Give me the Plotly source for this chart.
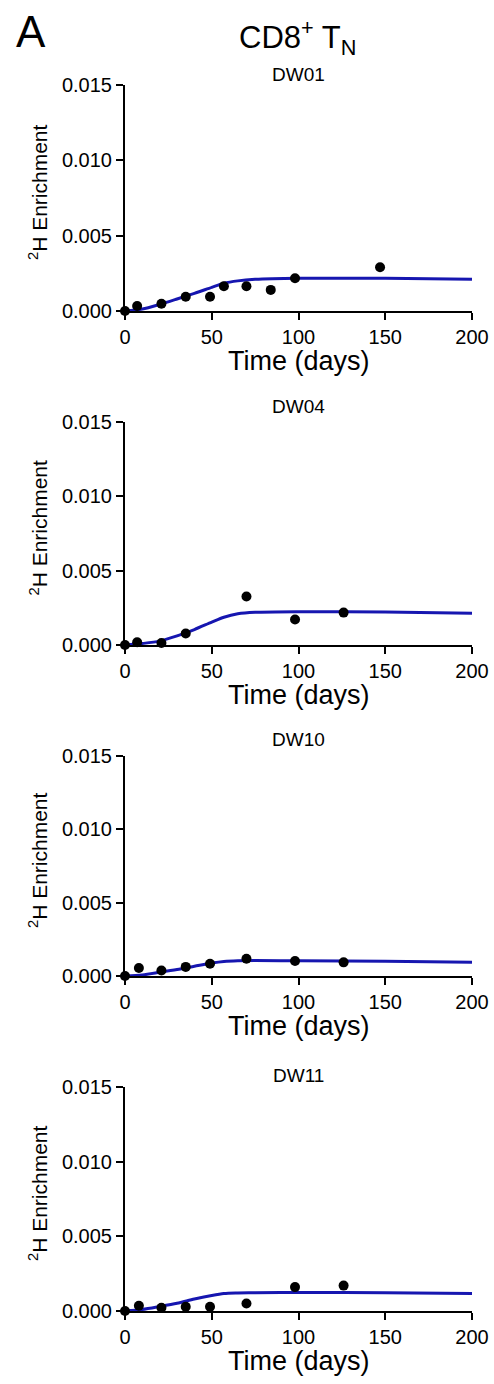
import plotly.graph_objects as go

# ---- data ----
panel_names = ["DW01", "DW04", "DW10", "DW11"]

dw01_days = [0, 7, 21, 35, 49, 57, 70, 84, 98, 147]
dw01_vals = [0.0, 0.00033, 0.00048, 0.00095, 0.00095, 0.00164, 0.00164, 0.0014, 0.00217, 0.0029]
dw04_days = [0, 7, 21, 35, 70, 98, 126]
dw04_vals = [0.0, 0.00018, 0.00013, 0.00077, 0.00326, 0.00172, 0.00218]
dw10_days = [0, 8, 21, 35, 49, 70, 98, 126]
dw10_vals = [0.0, 0.00055, 0.00038, 0.00062, 0.00084, 0.00118, 0.00102, 0.00093]
dw11_days = [0, 8, 21, 35, 49, 70, 98, 126]
dw11_vals = [0.0, 0.00035, 0.00022, 0.00028, 0.00028, 0.0005, 0.0016, 0.0017]

fit_days = [0, 10, 20, 30, 40, 50, 57, 65, 75, 100, 150, 200]
dw01_fit = [0.0, 0.00013, 0.00044, 0.0008, 0.00117, 0.00157, 0.00184, 0.0020, 0.0021, 0.00217, 0.00217, 0.0021]
dw04_fit = [0.0, 0.0001, 0.00026, 0.00061, 0.00104, 0.00154, 0.00187, 0.0021, 0.0022, 0.00224, 0.00222, 0.00213]
dw10_fit = [0.0, 0.00007, 0.00025, 0.00044, 0.00066, 0.00088, 0.00099, 0.00104, 0.00105, 0.00104, 0.001, 0.00093]
dw11_fit = [0.0, 0.0001, 0.0003, 0.00052, 0.0008, 0.00104, 0.00117, 0.00121, 0.00123, 0.00124, 0.00122, 0.00117]

x_ticks = [0, 50, 100, 150, 200]
y_ticks = [0.0, 0.005, 0.010, 0.015]

points = [(dw01_days, dw01_vals), (dw04_days, dw04_vals), (dw10_days, dw10_vals), (dw11_days, dw11_vals)]
fits = [dw01_fit, dw04_fit, dw10_fit, dw11_fit]

# ---- layout geometry (pixels) ----
W, H = 494, 1384
x0_px, x1_px = 125, 472
panels_px = [(85, 311), (422, 645), (756, 976), (1087, 1311)]  # (top, bottom)
title_y_px = [75, 407, 739, 1075]

FONT = "Liberation Sans, Arial, Helvetica, sans-serif"
BLUE = "#1616b0"

fig = go.Figure()
layout = dict(
    template="none",
    width=W, height=H, autosize=False,
    margin=dict(l=0, r=0, t=0, b=0, pad=0),
    paper_bgcolor="white", plot_bgcolor="white",
    showlegend=False,
    font=dict(family=FONT, color="black"),
)
annotations = []

for i, ((top, bot), (dx, dy), fit) in enumerate(zip(panels_px, points, fits)):
    n = "" if i == 0 else str(i + 1)
    xa = "x" + n
    ya = "y" + n
    fig.add_trace(go.Scatter(
        x=fit_days, y=fit, mode="lines", xaxis=xa, yaxis=ya,
        line=dict(color=BLUE, width=3, shape="spline", smoothing=0.8),
        cliponaxis=False, hoverinfo="skip"))
    fig.add_trace(go.Scatter(
        x=dx, y=dy, mode="markers", xaxis=xa, yaxis=ya,
        marker=dict(color="black", size=10),
        cliponaxis=False))
    axis_common = dict(
        showgrid=False, zeroline=False, showline=True, linecolor="black", linewidth=2,
        ticks="outside", ticklen=7, tickwidth=2, tickcolor="black", automargin=False,
        tickfont=dict(family=FONT, size=20, color="black"),
    )
    layout["xaxis" + n] = dict(
        axis_common, domain=[x0_px / W, x1_px / W], range=[0, 200],
        tickvals=x_ticks, anchor=ya, fixedrange=True)
    layout["yaxis" + n] = dict(
        axis_common, domain=[1 - bot / H, 1 - top / H], range=[0, 0.015],
        tickvals=y_ticks, tickformat=".3f", anchor=xa, fixedrange=True)
    # panel title
    annotations.append(dict(
        text=panel_names[i], x=298 / W, y=1 - title_y_px[i] / H, xref="paper", yref="paper",
        showarrow=False, xanchor="center", yanchor="middle",
        font=dict(family=FONT, size=19, color="black")))
    # x-axis title
    annotations.append(dict(
        text="Time (days)", x=(x0_px + x1_px) / 2 / W, y=1 - (bot + 50) / H,
        xref="paper", yref="paper", showarrow=False, xanchor="center", yanchor="middle",
        font=dict(family=FONT, size=27, color="black")))
    # y-axis title
    annotations.append(dict(
        text="<sup>2</sup>H Enrichment", x=38 / W, y=1 - ((top + bot) / 2 - 6) / H,
        xref="paper", yref="paper", showarrow=False, xanchor="center", yanchor="middle",
        textangle=-90, font=dict(family=FONT, size=21, color="black")))

annotations.append(dict(
    text="A", x=31 / W, y=1 - 31 / H, xref="paper", yref="paper", showarrow=False,
    xanchor="center", yanchor="middle", font=dict(family=FONT, size=44, color="black")))
annotations.append(dict(
    text="CD8<sup>+</sup> T<sub>N</sub>", x=297 / W, y=1 - 38 / H, xref="paper", yref="paper",
    showarrow=False, xanchor="center", yanchor="middle",
    font=dict(family=FONT, size=31, color="black")))

layout["annotations"] = annotations
fig.update_layout(**layout)
fig.write_html("out.html")
